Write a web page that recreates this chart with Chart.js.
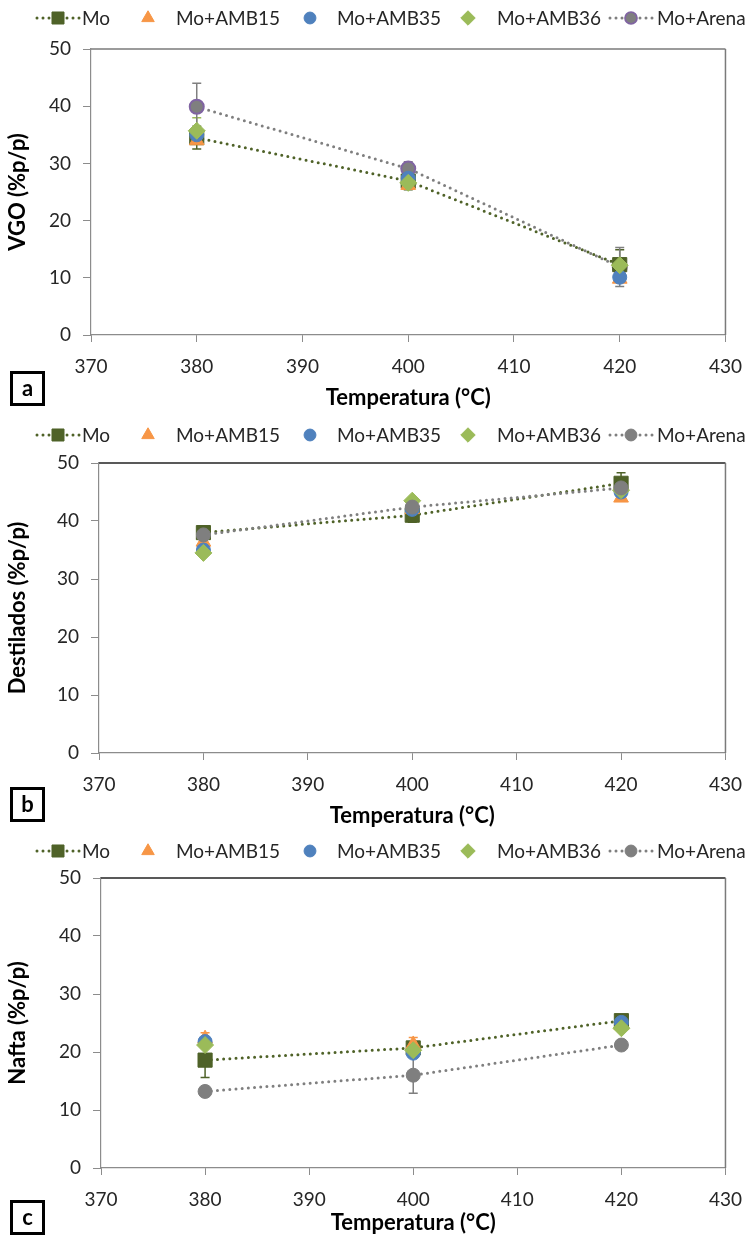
<!DOCTYPE html>
<html>
<head>
<meta charset="utf-8">
<script src="https://cdn.jsdelivr.net/npm/chart.js@4.4.1/dist/chart.umd.min.js"></script>
<style>
  html, body { margin: 0; padding: 0; background: #fff; }
  body { width: 755px; height: 1245px; position: relative; overflow: hidden; font-family: Lato, "Open Sans", sans-serif; }
  .panel { position: absolute; left: 0; width: 755px; height: 415px; }
  .panel canvas { position: absolute; left: 0; top: 0; }
  .lg-sym { position: absolute; }
  .lg-txt { position: absolute; font-family: Lato, sans-serif; font-size: 19px; color: #262626; white-space: nowrap; line-height: 24px; }
  .tag { position: absolute; left: 10px; width: 29px; height: 29px; border: 3px solid #000; font-family: Lato, sans-serif; font-weight: bold; font-size: 22px; line-height: 27px; text-align: center; color: #000; }
</style>
</head>
<body>
<div class="panel" id="pa" style="top:0px"><canvas id="ca" width="755" height="415"></canvas></div>
<div class="panel" id="pb" style="top:415px"><canvas id="cb" width="755" height="415"></canvas></div>
<div class="panel" id="pc" style="top:830px"><canvas id="cc" width="755" height="415"></canvas></div>
<div class="tag" style="top:371px">a</div>
<div class="tag" style="top:787px">b</div>
<div class="tag" style="top:1200px">c</div>
<script>
// ---------------- DATA ----------------
const temperatures = [380, 400, 420];
const seriesNames = ['Mo', 'Mo+AMB15', 'Mo+AMB35', 'Mo+AMB36', 'Mo+Arena'];
const xTickValues = [370, 380, 390, 400, 410, 420, 430];
const yTickValues = [0, 10, 20, 30, 40, 50];
const xAxisTitle = 'Temperatura (°C)';

// (a) VGO
const vgoMo      = [34.5, 26.9, 12.3];
const vgoAMB15   = [34.0, 26.2, 9.8];
const vgoAMB35   = [35.0, 27.4, 10.1];
const vgoAMB36   = [35.7, 26.6, 12.2];
const vgoArena   = [39.9, 29.1, 11.9];
const vgoMoErr    = [2.0, 1.5, 2.6];
const vgoAMB15Err = [0, 0, 0];
const vgoAMB35Err = [0, 0, 0];
const vgoAMB36Err = [2.3, 0, 0];
const vgoArenaErr = [4.1, 1.2, 3.4];

// (b) Destilados
const destMo      = [38.0, 41.0, 46.5];
const destAMB15   = [36.4, 42.0, 44.0];
const destAMB35   = [35.0, 42.0, 45.0];
const destAMB36   = [34.5, 43.5, 45.3];
const destArena   = [37.6, 42.4, 45.7];
const destMoErr    = [0.5, 1.2, 1.8];
const destAMB15Err = [0, 0, 0];
const destAMB35Err = [0, 0, 0];
const destAMB36Err = [0, 0, 0];
const destArenaErr = [0, 0, 0];

// (c) Nafta
const naftaMo      = [18.6, 20.7, 25.4];
const naftaAMB15   = [22.3, 21.3, 24.6];
const naftaAMB35   = [21.8, 19.8, 25.1];
const naftaAMB36   = [21.2, 20.3, 24.1];
const naftaArena   = [13.2, 16.0, 21.2];
const naftaMoErr    = [3.0, 0, 0];
const naftaAMB15Err = [1.0, 1.2, 0];
const naftaAMB35Err = [0, 0, 0];
const naftaAMB36Err = [0, 0, 0];
const naftaArenaErr = [0, 3.1, 0];

// ---------------- STYLES ----------------
const seriesStyles = [
  { color: '#4F6228', shape: 'rect',     radius: 10,  line: true  },
  { color: '#F79646', shape: 'triangle', radius: 8.5, line: false },
  { color: '#4F81BD', shape: 'circle',   radius: 7,   line: false },
  { color: '#9BBB59', shape: 'rectRot',  radius: 8.5, line: false },
  { color: '#7F7F7F', shape: 'circle',   radius: 7,   line: true  }
];
const ARENA_PURPLE = '#8064A2';
const AXIS_GRAY = '#8c8c8c';
const TEXT_COL = '#262626';

const panels = [
  { canvas: 'ca', panel: 'pa', yTitle: 'VGO (%p/p)',
    values: [vgoMo, vgoAMB15, vgoAMB35, vgoAMB36, vgoArena],
    errors: [vgoMoErr, vgoAMB15Err, vgoAMB35Err, vgoAMB36Err, vgoArenaErr],
    left: 91, chartTop: 49, chartBottom: 335, xTitlePad: 4, legendY: 18,
    arenaBorder: ARENA_PURPLE, arenaBelow: true, topColor: '#7a7a7a' },
  { canvas: 'cb', panel: 'pb', yTitle: 'Destilados (%p/p)',
    values: [destMo, destAMB15, destAMB35, destAMB36, destArena],
    errors: [destMoErr, destAMB15Err, destAMB35Err, destAMB36Err, destArenaErr],
    left: 99, chartTop: 48, chartBottom: 338, xTitlePad: 1, legendY: 20,
    arenaBorder: null, arenaBelow: false, topColor: '#222' },
  { canvas: 'cc', panel: 'pc', yTitle: 'Nafta (%p/p)',
    values: [naftaMo, naftaAMB15, naftaAMB35, naftaAMB36, naftaArena],
    errors: [naftaMoErr, naftaAMB15Err, naftaAMB35Err, naftaAMB36Err, naftaArenaErr],
    left: 101, chartTop: 48, chartBottom: 338, xTitlePad: 9, legendY: 21,
    arenaBorder: null, arenaBelow: false, topColor: '#222' }
];

const CANVAS_H = 415;
const PLOT_RIGHT = 730;

// legend layout (symbol centres / text starts)
const legendSymbolCenters = [58, 148, 310, 468, 631];
const legendTextLefts = [82, 176, 337, 497, 657];

// ---------------- PLUGINS ----------------
const errorBarPlugin = {
  id: 'errorBars',
  beforeDatasetsDraw(chart) {
    const { ctx } = chart;
    const xs = chart.scales.x, ys = chart.scales.y;
    ctx.save();
    chart.data.datasets.forEach(ds => {
      ds.data.forEach((p, i) => {
        const e = ds.errors ? ds.errors[i] : 0;
        if (!e) return;
        const px = xs.getPixelForValue(p.x);
        const t = ys.getPixelForValue(p.y + e);
        const b = ys.getPixelForValue(p.y - e);
        ctx.strokeStyle = ds.errColor;
        ctx.lineWidth = 1.5;
        ctx.beginPath();
        ctx.moveTo(px, t); ctx.lineTo(px, b);
        ctx.moveTo(px - 4.5, t); ctx.lineTo(px + 4.5, t);
        ctx.moveTo(px - 4.5, b); ctx.lineTo(px + 4.5, b);
        ctx.stroke();
      });
    });
    ctx.restore();
  }
};

const framePlugin = {
  id: 'frame',
  beforeDatasetsDraw(chart, args, opts) {
    const { ctx, chartArea: { left, right, top, bottom } } = chart;
    ctx.save();
    ctx.lineWidth = 1.5;
    ctx.strokeStyle = opts.topColor;
    ctx.beginPath(); ctx.moveTo(left, top); ctx.lineTo(right, top); ctx.stroke();
    ctx.strokeStyle = opts.rightColor;
    ctx.beginPath(); ctx.moveTo(right, top); ctx.lineTo(right, bottom); ctx.stroke();
    ctx.restore();
  }
};

// ---------------- LEGEND SYMBOLS ----------------
function drawShape(ctx, shape, x, y, r, fill, stroke, bw) {
  ctx.fillStyle = fill; ctx.strokeStyle = stroke; ctx.lineWidth = bw;
  ctx.beginPath();
  if (shape === 'rect') {
    const s = r * Math.SQRT1_2;
    ctx.rect(x - s, y - s, 2 * s, 2 * s);
  } else if (shape === 'triangle') {
    for (let k = 0; k < 3; k++) {
      const a = k * 2 * Math.PI / 3;
      const px = x + Math.sin(a) * r, py = y - Math.cos(a) * r;
      if (k === 0) ctx.moveTo(px, py); else ctx.lineTo(px, py);
    }
    ctx.closePath();
  } else if (shape === 'circle') {
    ctx.arc(x, y, r, 0, Math.PI * 2);
  } else if (shape === 'rectRot') {
    ctx.moveTo(x, y - r); ctx.lineTo(x + r, y); ctx.lineTo(x, y + r); ctx.lineTo(x - r, y); ctx.closePath();
  }
  ctx.fill();
  if (bw > 0) ctx.stroke();
}

function buildLegend(cfg) {
  const host = document.getElementById(cfg.panel);
  seriesNames.forEach((name, s) => {
    const st = seriesStyles[s];
    const c = document.createElement('canvas');
    c.width = 48; c.height = 22;
    c.className = 'lg-sym';
    c.style.left = (legendSymbolCenters[s] - 24) + 'px';
    c.style.top = (cfg.legendY - 11) + 'px';
    const ctx = c.getContext('2d');
    if (st.line) {
      ctx.save();
      ctx.strokeStyle = st.color; ctx.lineWidth = 3; ctx.lineCap = 'round';
      ctx.setLineDash([0, 6]);
      ctx.beginPath(); ctx.moveTo(3, 11); ctx.lineTo(46, 11); ctx.stroke();
      ctx.restore();
    }
    const border = (s === 4 && cfg.arenaBorder) ? cfg.arenaBorder : st.color;
    const bw = (s === 4 && cfg.arenaBorder) ? 1.8 : 1;
    drawShape(ctx, st.shape, 24, 11, st.radius * 0.85, st.color, border, bw);
    host.appendChild(c);
    const t = document.createElement('div');
    t.className = 'lg-txt';
    t.textContent = name;
    t.style.left = legendTextLefts[s] + 'px';
    t.style.top = (cfg.legendY - 12) + 'px';
    host.appendChild(t);
  });
}

// ---------------- CHARTS ----------------
function makeChart(cfg) {
  const datasets = cfg.values.map((vals, s) => {
    const st = seriesStyles[s];
    const isArenaPurple = (s === 4 && cfg.arenaBorder);
    let order = 5 - s;
    if (s === 4 && cfg.arenaBelow) order = 6;
    return {
      label: seriesNames[s],
      data: temperatures.map((t, i) => ({ x: t, y: vals[i] })),
      errors: cfg.errors[s],
      errColor: st.color,
      showLine: st.line,
      borderColor: st.color,
      borderWidth: 3,
      borderDash: [0, 6.2],
      borderCapStyle: 'round',
      fill: false,
      tension: 0,
      pointStyle: st.shape,
      pointRadius: st.radius,
      pointHoverRadius: st.radius,
      pointBackgroundColor: st.color,
      pointBorderColor: isArenaPurple ? cfg.arenaBorder : st.color,
      pointBorderWidth: isArenaPurple ? 2 : 1,
      order: order
    };
  });

  new Chart(document.getElementById(cfg.canvas), {
    type: 'scatter',
    data: { datasets },
    plugins: [errorBarPlugin, framePlugin],
    options: {
      responsive: false,
      animation: false,
      devicePixelRatio: 1,
      events: [],
      layout: { padding: { top: cfg.chartTop, right: 755 - PLOT_RIGHT, bottom: 0, left: 0 } },
      plugins: {
        legend: { display: false },
        tooltip: { enabled: false },
        frame: { topColor: cfg.topColor, rightColor: '#7a7a7a' }
      },
      scales: {
        x: {
          type: 'linear', min: xTickValues[0], max: xTickValues[xTickValues.length - 1],
          afterBuildTicks: (sc) => { sc.ticks = xTickValues.map(v => ({ value: v })); },
          afterFit: (sc) => { sc.height = CANVAS_H - cfg.chartBottom; },
          grid: { display: true, drawOnChartArea: false, drawTicks: true, tickLength: 7, color: AXIS_GRAY, lineWidth: 1 },
          border: { display: true, color: AXIS_GRAY, width: 1.2 },
          ticks: { padding: 13, color: TEXT_COL, font: { family: 'Lato', size: 19 }, maxRotation: 0, autoSkip: false },
          title: { display: true, text: xAxisTitle, color: '#000',
                   font: { family: 'Lato', size: 22, weight: 'bold' },
                   padding: { top: 0, bottom: cfg.xTitlePad } }
        },
        y: {
          type: 'linear', min: yTickValues[0], max: yTickValues[yTickValues.length - 1],
          afterBuildTicks: (sc) => { sc.ticks = yTickValues.map(v => ({ value: v })); },
          afterFit: (sc) => { sc.width = cfg.left; },
          grid: { display: true, drawOnChartArea: false, drawTicks: true, tickLength: 8, color: AXIS_GRAY, lineWidth: 1 },
          border: { display: true, color: AXIS_GRAY, width: 1.2 },
          ticks: { padding: 12, color: TEXT_COL, font: { family: 'Lato', size: 19 } },
          title: { display: true, text: cfg.yTitle, color: '#000',
                   font: { family: 'Lato', size: 22, weight: 'bold' },
                   padding: { top: 5, bottom: 0 } }
        }
      }
    }
  });
}

panels.forEach(p => { buildLegend(p); makeChart(p); });
</script>
</body>
</html>
